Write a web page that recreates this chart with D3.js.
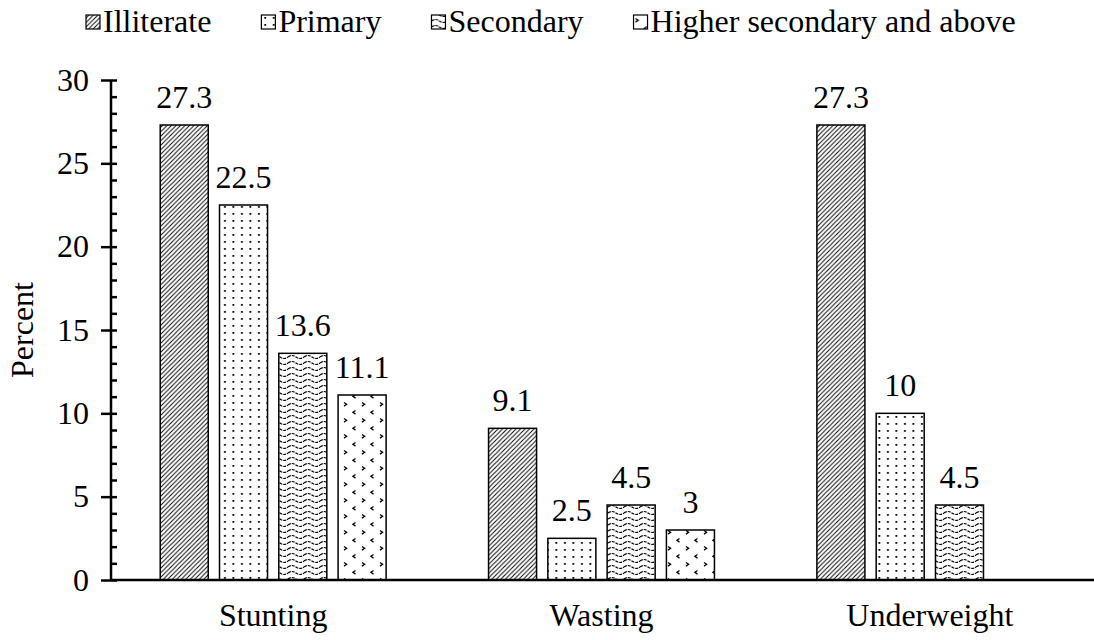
<!DOCTYPE html>
<html>
<head>
<meta charset="utf-8">
<script src="https://cdn.jsdelivr.net/npm/d3@7"></script>
<style>
  body { margin: 0; background: #fff; }
  svg text { font-family: "Liberation Serif", "Times New Roman", "DejaVu Serif", serif; fill: #000; }
</style>
</head>
<body>
<div id="chart"></div>
<script>
// Data
var categories = ["Stunting", "Wasting", "Underweight"];
var seriesNames = ["Illiterate", "Primary", "Secondary", "Higher secondary and above"];
var illiterate = [27.3, 9.1, 27.3];
var primary = [22.5, 2.5, 10];
var secondary = [13.6, 4.5, 4.5];
var higher = [11.1, 3, null];
var yTicks = [0, 5, 10, 15, 20, 25, 30];

var seriesValues = [illiterate, primary, secondary, higher];
var patternIds = ["pDiag", "pDots", "pWave", "pChev"];

var w = 1094, h = 640;
var fontSize = 32;
var serif = "'Liberation Serif', 'Times New Roman', 'DejaVu Serif', serif";

var svg = d3.select("#chart").append("svg")
    .attr("width", w)
    .attr("height", h)
    .attr("font-family", serif);

// Fill patterns (approximating the Excel pattern fills)
var defs = svg.append("defs");

var pd = defs.append("pattern").attr("id", "pDiag")
    .attr("patternUnits", "userSpaceOnUse").attr("width", 4.5).attr("height", 4.5);
pd.append("rect").attr("width", 4.5).attr("height", 4.5).attr("fill", "#fff");
pd.append("path").attr("d", "M-1,1 l2,-2 M0,4.5 l4.5,-4.5 M3.5,5.5 l2,-2")
    .attr("stroke", "#000").attr("stroke-width", 0.95);

var pp = defs.append("pattern").attr("id", "pDots")
    .attr("patternUnits", "userSpaceOnUse").attr("width", 8.5).attr("height", 7);
pp.append("rect").attr("width", 8.5).attr("height", 7).attr("fill", "#fff");
pp.append("rect").attr("x", 3).attr("y", 3).attr("width", 1.8).attr("height", 1.8).attr("fill", "#000");

var pw = defs.append("pattern").attr("id", "pWave")
    .attr("patternUnits", "userSpaceOnUse").attr("width", 16).attr("height", 6);
pw.append("rect").attr("width", 16).attr("height", 6).attr("fill", "#fff");
pw.append("path").attr("d", "M0,3 Q4,0 8,3 Q12,6 16,3")
    .attr("fill", "none").attr("stroke", "#000").attr("stroke-width", 1.2)
    .attr("stroke-dasharray", "3,1");

var pc = defs.append("pattern").attr("id", "pChev")
    .attr("patternUnits", "userSpaceOnUse").attr("width", 18).attr("height", 16);
pc.append("rect").attr("width", 18).attr("height", 16).attr("fill", "#fff");
pc.append("path").attr("d", "M2,2.5 l2.6,1.8 l-2.6,1.8 M13.5,10.5 l-2.6,1.8 l2.6,1.8")
    .attr("fill", "none").attr("stroke", "#000").attr("stroke-width", 1.3);

// Scales
var x0 = d3.scaleBand()
    .domain(categories)
    .range([109, 1094])
    .paddingInner(0.312)
    .paddingOuter(0.156);

var x1 = d3.scaleBand()
    .domain(seriesNames)
    .range([0, x0.bandwidth()])
    .paddingInner(0.19)
    .paddingOuter(0);

var y = d3.scaleLinear()
    .domain([0, 30])
    .range([580, 80]);

// Bars
var rows = [];
categories.forEach(function(c, i) {
    seriesNames.forEach(function(s, j) {
        if (seriesValues[j][i] != null) {
            rows.push({ cat: c, series: s, idx: j, value: seriesValues[j][i] });
        }
    });
});

svg.selectAll("rect.bar")
   .data(rows)
   .enter()
   .append("rect")
   .attr("class", "bar")
   .attr("x", function(d) { return x0(d.cat) + x1(d.series); })
   .attr("y", function(d) { return y(d.value); })
   .attr("width", x1.bandwidth())
   .attr("height", function(d) { return y(0) - y(d.value); })
   .attr("fill", function(d) { return "url(#" + patternIds[d.idx] + ")"; })
   .attr("stroke", "#000")
   .attr("stroke-width", 1.5);

// Value labels
svg.selectAll("text.val")
   .data(rows)
   .enter()
   .append("text")
   .attr("class", "val")
   .attr("x", function(d) { return x0(d.cat) + x1(d.series) + x1.bandwidth() / 2; })
   .attr("y", function(d) { return y(d.value) - 17; })
   .attr("text-anchor", "middle")
   .attr("font-size", fontSize)
   .text(function(d) { return String(d.value); });

// Y axis: major ticks on the left, minor ticks inside
var yAxis = svg.append("g")
   .attr("transform", "translate(111,0)")
   .call(d3.axisLeft(y).tickValues(yTicks).tickSize(10).tickPadding(12));
yAxis.attr("font-family", serif).attr("font-size", fontSize);
yAxis.selectAll("text").attr("font-size", fontSize);

var yMinor = svg.append("g")
   .attr("transform", "translate(111,0)")
   .call(d3.axisRight(y).tickValues(d3.range(0, 31)).tickSize(6).tickFormat(""));
yMinor.select(".domain").remove();

svg.selectAll(".tick line").attr("stroke", "#000").attr("stroke-width", 2.5);
yAxis.select(".domain").attr("stroke", "#000").attr("stroke-width", 2.5)
     .attr("d", "M0," + y(30) + "V" + y(0));

// X axis
var xAxis = svg.append("g")
   .attr("transform", "translate(0," + y(0) + ")")
   .call(d3.axisBottom(x0).tickSize(0));
xAxis.attr("font-family", serif).attr("font-size", fontSize);
xAxis.select(".domain").attr("stroke", "#000").attr("stroke-width", 2.5)
     .attr("d", "M111,0H1094");
xAxis.selectAll("text")
     .attr("font-size", fontSize)
     .attr("y", 46)
     .attr("dy", 0);

// Y axis title
svg.append("text")
   .attr("transform", "translate(33," + y(15) + ") rotate(-90)")
   .attr("text-anchor", "middle")
   .attr("font-size", fontSize)
   .text("Percent");

// Legend
var legend = svg.append("g").attr("class", "legend");
var cursor = 86;
seriesNames.forEach(function(s, j) {
    var g = legend.append("g").attr("transform", "translate(" + cursor + ",0)");
    g.append("rect")
     .attr("x", 0).attr("y", 15)
     .attr("width", 14).attr("height", 14)
     .attr("fill", "url(#" + patternIds[j] + ")")
     .attr("stroke", "#000").attr("stroke-width", 1.2);
    var t = g.append("text")
     .attr("x", 17).attr("y", 32)
     .attr("font-size", fontSize)
     .text(s);
    cursor += 17 + t.node().getComputedTextLength() + 50;
});
</script>
</body>
</html>
